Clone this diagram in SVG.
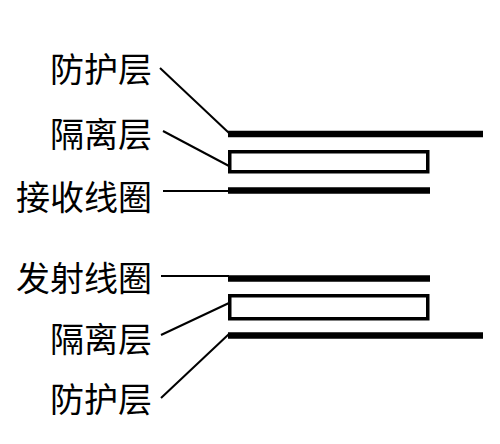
<svg xmlns="http://www.w3.org/2000/svg" width="500" height="444" viewBox="0 0 500 444">
<style>
.lbl{font-family:"Noto Sans CJK SC","Noto Sans",sans-serif;font-size:34px;fill:#000;text-anchor:end}
.bar{stroke:#000;stroke-width:6.5;fill:none}
.box{stroke:#000;stroke-width:3.5;fill:#fff}
.lead{stroke:#000;stroke-width:2;fill:none}
</style>
<rect width="500" height="444" fill="#fff"/>
<g id="connectors">
<line class="lead" x1="160" y1="68" x2="229" y2="133"/>
<line class="lead" x1="163" y1="131" x2="229" y2="166"/>
<line class="lead" x1="163" y1="191" x2="229" y2="191"/>
<line class="lead" x1="161" y1="276" x2="229" y2="276"/>
<line class="lead" x1="161" y1="335" x2="229" y2="303"/>
<line class="lead" x1="161" y1="398" x2="229" y2="334"/>
</g>
<g id="top-shield"><line class="bar" x1="228" y1="134" x2="483" y2="134"/><text class="lbl" x="152" y="82">防护层</text></g>
<g id="top-isolation"><rect class="box" x="229.75" y="151.75" width="198" height="20"/><text class="lbl" x="152" y="147">隔离层</text></g>
<g id="receive-coil"><line class="bar" x1="228" y1="190.5" x2="430" y2="190.5"/><text class="lbl" x="152" y="210">接收线圈</text></g>
<g id="transmit-coil"><line class="bar" x1="228" y1="278.5" x2="430" y2="278.5"/><text class="lbl" x="152" y="291">发射线圈</text></g>
<g id="bottom-isolation"><rect class="box" x="229.75" y="295.75" width="198" height="23"/><text class="lbl" x="152" y="352">隔离层</text></g>
<g id="bottom-shield"><line class="bar" x1="228" y1="335.5" x2="483" y2="335.5"/><text class="lbl" x="152" y="412">防护层</text></g>
</svg>
